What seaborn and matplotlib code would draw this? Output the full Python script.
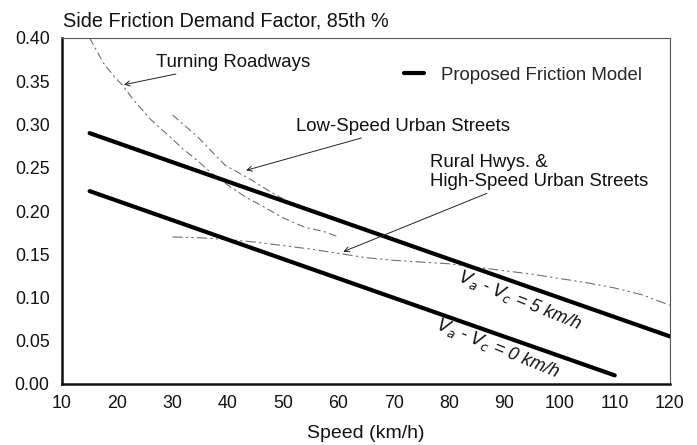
import matplotlib
matplotlib.use("Agg")
import matplotlib.pyplot as plt
import seaborn as sns
import pandas as pd

# ---- data ----
model5_speed = [15, 120]
model5_f = [0.290, 0.055]
model0_speed = [15, 110]
model0_f = [0.223, 0.010]

turning_speed = [15, 17.5, 19.5, 21, 23, 26, 29.5, 32, 34, 37, 40, 43, 47, 50, 54, 57.5, 60]
turning_f = [0.400, 0.371, 0.355, 0.345, 0.328, 0.306, 0.286, 0.271, 0.261, 0.244,
             0.230, 0.217, 0.203, 0.192, 0.181, 0.176, 0.170]

lowspeed_speed = [30, 34.5, 39.5, 44, 47.5, 50]
lowspeed_f = [0.311, 0.286, 0.253, 0.237, 0.223, 0.214]

rural_speed = [30, 35, 40, 45, 50, 55, 60, 65, 70, 75, 80, 85, 90, 95, 100, 105, 110, 115, 120]
rural_f = [0.170, 0.169, 0.167, 0.164, 0.160, 0.156, 0.151, 0.146, 0.143, 0.141,
           0.139, 0.135, 0.131, 0.127, 0.122, 0.117, 0.111, 0.103, 0.091]

xticks = [10, 20, 30, 40, 50, 60, 70, 80, 90, 100, 110, 120]
yticks = [0.00, 0.05, 0.10, 0.15, 0.20, 0.25, 0.30, 0.35, 0.40]

title = "Side Friction Demand Factor, 85th %"
xlabel = "Speed (km/h)"

sns.set_theme(style="white")
plt.rcParams['font.family'] = ['Liberation Sans', 'DejaVu Sans']

fig = plt.figure(figsize=(6.97, 4.45), dpi=100)
ax = fig.add_axes([62/697, 1-384/445, (670-62)/697, (384-38)/445])

thin_col = "#707070"
dash = (7, 3, 2, 3)

def df_of(x, y):
    return pd.DataFrame({"speed": x, "f": y})

sns.lineplot(data=df_of(turning_speed, turning_f), x="speed", y="f", ax=ax,
             color=thin_col, lw=0.8, legend=False)
ax.lines[-1].set_dashes(dash)
sns.lineplot(data=df_of(lowspeed_speed, lowspeed_f), x="speed", y="f", ax=ax,
             color=thin_col, lw=0.8, legend=False)
ax.lines[-1].set_dashes(dash)
sns.lineplot(data=df_of(rural_speed, rural_f), x="speed", y="f", ax=ax,
             color=thin_col, lw=0.8, legend=False)
ax.lines[-1].set_dashes((9, 3, 2, 3, 2, 3))

sns.lineplot(data=df_of(model5_speed, model5_f), x="speed", y="f", ax=ax,
             color="black", lw=3.0, legend=False)
model_line = ax.lines[-1]
sns.lineplot(data=df_of(model0_speed, model0_f), x="speed", y="f", ax=ax,
             color="black", lw=3.0, legend=False)

ax.set_xlim(10, 120)
ax.set_ylim(0, 0.40)
ax.set_xticks(xticks)
ax.set_yticks(yticks)
ax.set_xticklabels([str(t) for t in xticks])
ax.set_yticklabels([f"{t:.2f}" for t in yticks])
ax.tick_params(axis="both", direction="in", length=7, width=0.8, color="#888888",
               labelsize=12.8, labelcolor="#111111")
ax.tick_params(axis="x", pad=8)
ax.tick_params(axis="y", pad=9)
ax.set_xlabel(xlabel, fontsize=14, color="#111111", labelpad=9)
ax.set_ylabel("")

for s in ["left", "bottom"]:
    ax.spines[s].set_linewidth(1.8)
    ax.spines[s].set_color("#111111")
for s in ["top", "right"]:
    ax.spines[s].set_linewidth(0.8)
    ax.spines[s].set_color("#555555")

fig.text(63/697, 1-21/445, title, fontsize=14.3, ha="left", va="center", color="#111111")

ax.legend(handles=[model_line], labels=["Proposed Friction Model"], loc="center left",
          bbox_to_anchor=(0.535, 0.893), frameon=False, fontsize=13.4,
          handlelength=1.05, handletextpad=0.95)

arrow = dict(arrowstyle="->", color="#222222", lw=0.7, shrinkA=0, shrinkB=0,
             mutation_scale=9)
fs = 13.4
ax.annotate("Turning Roadways", xy=(21.2, 0.346), xytext=(27.0, 0.372),
            fontsize=fs, ha="left", va="center", arrowprops=arrow, color="#111111")
ax.annotate("Low-Speed Urban Streets", xy=(43.3, 0.247), xytext=(52.4, 0.298),
            fontsize=fs, ha="left", va="center", arrowprops=arrow, color="#111111")
ax.annotate("Rural Hwys. &\nHigh-Speed Urban Streets", xy=(60.9, 0.153), xytext=(76.6, 0.245),
            fontsize=fs, ha="left", va="center", arrowprops=arrow, color="#111111",
            linespacing=1.15)

ax.text(92.9, 0.097, r"$V_a$ - $V_c$ = 5 km/h", rotation=-22, ha="center", va="center",
        fontsize=13, style="italic", color="#111111", rotation_mode="anchor")
ax.text(88.9, 0.041, r"$V_a$ - $V_c$ = 0 km/h", rotation=-22, ha="center", va="center",
        fontsize=13, style="italic", color="#111111", rotation_mode="anchor")

fig.savefig("out.png", dpi=100)
